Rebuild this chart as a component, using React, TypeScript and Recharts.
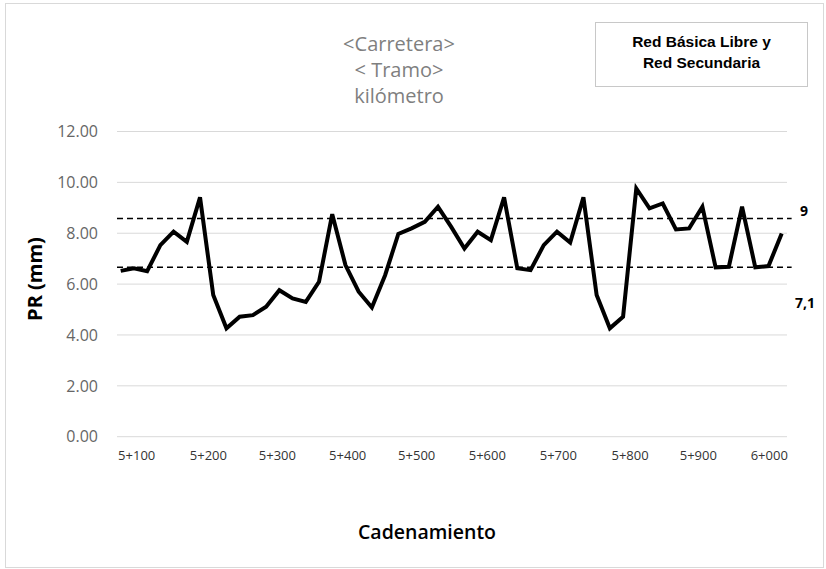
import { LineChart, Line, XAxis, YAxis, CartesianGrid, ReferenceLine } from "recharts";

// PR (mm) por punto de medición
const prValues = [
  6.52, 6.62, 6.51, 7.53, 8.06, 7.66, 9.41, 5.57, 4.26, 4.72, 4.78, 5.11, 5.76, 5.44, 5.3, 6.09, 8.75,
  6.75, 5.7, 5.08, 6.35, 7.97, 8.19, 8.45, 9.04, 8.25, 7.4, 8.06, 7.73, 9.41, 6.62, 6.55, 7.53, 8.06,
  7.63, 9.41, 5.57, 4.26, 4.72, 9.76, 8.98, 9.17, 8.15, 8.19, 9.04, 6.66, 6.68, 9.04, 6.66, 6.71, 7.99,
];

const xTickLabels = ["5+100", "5+200", "5+300", "5+400", "5+500", "5+600", "5+700", "5+800", "5+900", "6+000"];
const xTickAt = [1.21, 6.63, 11.85, 17.17, 22.39, 27.73, 33.1, 38.53, 43.69, 49.06];
const yTicks = [0, 2, 4, 6, 8, 10, 12];

const upperLimit = 8.58;
const lowerLimit = 6.66;

const data = prValues.map((pr, i) => ({ i, pr }));

const W = 826;
const H = 569;

const centered = (x: number, y: number): React.CSSProperties => ({
  position: "absolute",
  left: x,
  top: y,
  transform: "translate(-50%, -50%)",
  whiteSpace: "nowrap",
});

export default function App() {
  return (
    <div style={{ position: "absolute", left: 0, top: 0, width: W, height: H, background: "#fff", overflow: "hidden" }}>
      <div
        style={{
          position: "absolute",
          left: 5,
          top: 3,
          width: 817,
          height: 563,
          border: "1px solid #d9d9d9",
        }}
      />
      <div style={{ position: "absolute", left: 0, top: 0 }}>
        <LineChart width={W} height={H} data={data} margin={{ top: 131.5, right: 39, left: 0, bottom: 102.3 }}>
          <CartesianGrid vertical={false} stroke="#d9d9d9" strokeWidth={1} />
          <XAxis
            dataKey="i"
            type="number"
            domain={[-0.28, 50.4]}
            ticks={xTickAt}
            interval={0}
            tickFormatter={(_v, idx) => xTickLabels[idx]}
            axisLine={false}
            tickLine={false}
            tickSize={0}
            tickMargin={14}
            height={30}
            tick={{ fontFamily: "Open Sans", fontSize: 13, fill: "#333" }}
          />
          <YAxis
            domain={[0, 12]}
            ticks={yTicks}
            interval={0}
            tickFormatter={(v) => Number(v).toFixed(2)}
            axisLine={false}
            tickLine={false}
            tickSize={0}
            tickMargin={19}
            width={117}
            tick={{ fontFamily: "Open Sans", fontSize: 16, fill: "#666" }}
          />
          <ReferenceLine
            segment={[{ x: -0.28, y: upperLimit }, { x: 50.75, y: upperLimit }]}
            ifOverflow="visible"
            stroke="#000"
            strokeWidth={1.5}
            strokeDasharray="6 4"
          />
          <ReferenceLine
            segment={[{ x: -0.28, y: lowerLimit }, { x: 50.75, y: lowerLimit }]}
            ifOverflow="visible"
            stroke="#000"
            strokeWidth={1.5}
            strokeDasharray="6 4"
          />
          <Line
            dataKey="pr"
            stroke="#000"
            strokeWidth={4}
            dot={false}
            activeDot={false}
            isAnimationActive={false}
          />
        </LineChart>
      </div>

      <div
        style={{
          position: "absolute",
          left: 299,
          top: 31,
          width: 200,
          textAlign: "center",
          fontFamily: "Open Sans",
          fontSize: 20,
          lineHeight: "26px",
          color: "#7f7f7f",
        }}
      >
        <div>&lt;Carretera&gt;</div>
        <div>&lt; Tramo&gt;</div>
        <div>kilómetro</div>
      </div>

      <div
        style={{
          position: "absolute",
          left: 595,
          top: 22,
          width: 211,
          height: 63,
          border: "1px solid #c8c8c8",
          boxSizing: "content-box",
          fontFamily: "Liberation Sans",
          fontWeight: 700,
          fontSize: 15.5,
          lineHeight: "21px",
          textAlign: "center",
          paddingTop: 0,
        }}
      >
        <div style={{ paddingTop: 8 }}>Red Básica Libre y</div>
        <div>Red Secundaria</div>
      </div>

      <div
        style={{
          ...centered(33.5, 279),
          transform: "translate(-50%, -50%) rotate(-90deg)",
          fontFamily: "Open Sans",
          fontWeight: 700,
          fontSize: 20,
        }}
      >
        PR (mm)
      </div>

      <div style={{ ...centered(427, 531), fontFamily: "Open Sans", fontWeight: 600, fontSize: 19.5 }}>
        Cadenamiento
      </div>

      <div style={{ ...centered(804, 210), fontFamily: "Open Sans", fontWeight: 700, fontSize: 14 }}>9</div>
      <div style={{ ...centered(805, 302), fontFamily: "Open Sans", fontWeight: 700, fontSize: 14 }}>7,1</div>
    </div>
  );
}
